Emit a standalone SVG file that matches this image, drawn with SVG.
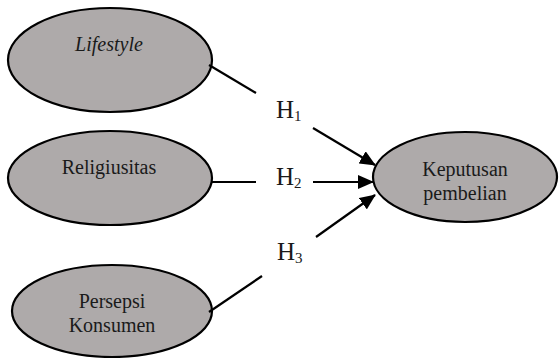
<svg xmlns="http://www.w3.org/2000/svg" width="560" height="358" viewBox="0 0 560 358">
<style>
.node ellipse{fill:#AEAAAA;stroke:#000;stroke-width:2.2}
.t{font-family:"Liberation Serif","Times New Roman",serif;font-size:20px;fill:#1a1a1a;text-anchor:middle}
.h{font-family:"Liberation Serif","Times New Roman",serif;font-size:25px;fill:#1a1a1a}
.sub{font-size:15px}
.c line{stroke:#000;stroke-width:2.2;fill:none}
</style>
<defs>
<marker id="arr" markerUnits="userSpaceOnUse" markerWidth="16" markerHeight="14" refX="15" refY="7" orient="auto">
<path d="M0,0 L16,7 L0,14 z" fill="#000"/>
</marker>
</defs>
<g id="lifestyle" class="node">
<ellipse cx="110" cy="60" rx="102" ry="52"/>
<text class="t" x="109" y="51" font-style="italic">Lifestyle</text>
</g>
<g id="religiusitas" class="node">
<ellipse cx="110" cy="178" rx="102" ry="47"/>
<text class="t" x="109" y="174">Religiusitas</text>
</g>
<g id="persepsi" class="node">
<ellipse cx="112" cy="311" rx="100" ry="46"/>
<text class="t" x="112" y="308">Persepsi</text>
<text class="t" x="112" y="332">Konsumen</text>
</g>
<g id="keputusan" class="node">
<ellipse cx="465" cy="177" rx="92" ry="45"/>
<text class="t" x="465" y="176">Keputusan</text>
<text class="t" x="465" y="200">pembelian</text>
</g>
<g id="connectors" class="c">
<line x1="209" y1="65" x2="256" y2="93"/>
<line x1="313" y1="128" x2="375" y2="165" marker-end="url(#arr)"/>
<line x1="212" y1="182" x2="256" y2="182"/>
<line x1="313" y1="182" x2="373" y2="182" marker-end="url(#arr)"/>
<line x1="209" y1="312" x2="262" y2="276"/>
<line x1="316" y1="237" x2="375" y2="195" marker-end="url(#arr)"/>
</g>
<g id="labels">
<text class="h" x="276" y="118">H<tspan class="sub" dy="3">1</tspan></text>
<text class="h" x="276" y="185">H<tspan class="sub" dy="3">2</tspan></text>
<text class="h" x="277" y="260">H<tspan class="sub" dy="3">3</tspan></text>
</g>
</svg>
